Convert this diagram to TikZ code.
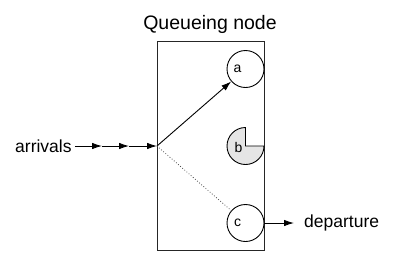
\documentclass[tikz,border=0pt]{standalone}
\usepackage{fontspec}
\setmainfont{Liberation Sans}
\usetikzlibrary{arrows.meta}
\begin{document}
\begin{tikzpicture}[x=1pt,y=-1pt,
  lbl/.style={inner sep=0pt,font=\fontsize{17.5}{20}\selectfont},
  letter/.style={font=\fontsize{14}{16}\selectfont},
  srv/.style={circle,draw,line width=0.9pt,minimum size=37pt,inner sep=0pt},
  arr/.style={line width=0.9pt,-{Latex[length=10pt,width=6.5pt]}}]
\useasboundingbox (0,0) rectangle (399,274);
\node[lbl,font=\fontsize{19.5}{22}\selectfont] (title) at (210,24) {Queueing node};
\draw[line width=1pt,draw=black!85] (157,41) rectangle (264,250);
\node[srv,label={[xshift=-8pt,letter]center:a}] (a) at (245.5,69) {};
\coordinate (bc) at (245.5,146);
\filldraw[fill=black!10,line width=0.9pt] (bc) -- ++(0,-18.5) arc[start angle=90,end angle=360,radius=18.5pt] -- cycle;
\node[circle,minimum size=37pt,inner sep=0pt,label={[xshift=-7pt,yshift=-1pt,letter]center:b}] (b) at (bc) {};
\node[srv,label={[xshift=-8pt,letter]center:c}] (c) at (245.5,223) {};
\node[lbl,anchor=west] (arrivals) at (15,146) {arrivals};
\coordinate (m1) at (102,146);
\coordinate (m2) at (129,146);
\coordinate (entry) at (157,146);
\draw[arr] ([xshift=3pt]arrivals.east) -- (m1);
\draw[arr] (m1) -- (m2);
\draw[arr] (m2) -- (entry);
\draw[arr] (entry) -- (a);
\draw[line width=0.8pt,dotted,black!70] (entry) -- (c);
\node[lbl,anchor=west] (departure) at (304,223) {departure};
\draw[arr] (c) -- ([xshift=-10pt]departure.west);
\end{tikzpicture}
\end{document}
